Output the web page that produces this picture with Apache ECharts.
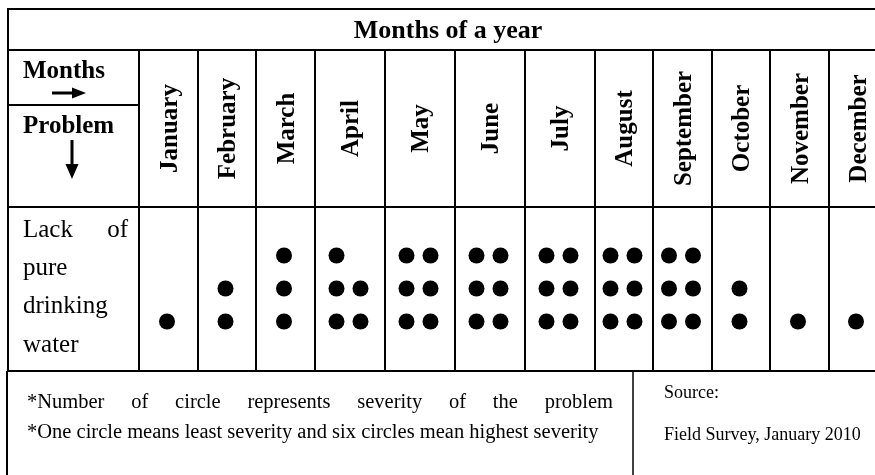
<!DOCTYPE html>
<html><head><meta charset="utf-8">
<script src="https://cdn.jsdelivr.net/npm/echarts@6/dist/echarts.min.js"></script>
<style>html,body{margin:0;padding:0;background:#fff}#c{width:875px;height:475px}</style>
</head><body><div id="c"></div>
<script>
// ---------- data ----------
const tableTitle = 'Months of a year';
const headerTop = 'Months';
const headerLeft = 'Problem';
const months = ['January','February','March','April','May','June','July','August','September','October','November','December'];
const severity = [1, 2, 3, 5, 6, 6, 6, 6, 6, 2, 1, 1];
const problemLines = [['Lack', 'of'], ['pure'], ['drinking'], ['water']];
const noteLine1 = '*Number of circle represents severity of the problem';
const noteLine2 = '*One circle means least severity and six circles mean highest severity';
const sourceLines = ['Source:', 'Field Survey, January 2010'];

// ---------- layout (styles / positions only) ----------
const FONT = '"Liberation Serif","Times New Roman",serif';
const W = 875, H = 475;
const colEdges = [139, 198, 256, 315, 385, 455, 525, 595, 653, 712, 770, 829, 886];
const yTop = 9, yTitle = 50, yHeadSplit = 105, yHead = 207, yData = 371;
const xLeft = 8, xFootLeft = 7, xFootSplit = 633;
const dotR = 8, dotBaseY = 321.5, dotStep = 33, pairHalf = 12;

function measure(text, font) {
  const ctx = document.createElement('canvas').getContext('2d');
  ctx.font = font;
  return ctx.measureText(text).width;
}
function line(x1, y1, x2, y2, w) {
  return { type: 'line', silent: true, shape: { x1, y1, x2, y2 }, style: { stroke: '#000', lineWidth: w || 2 } };
}
function text(str, x, y, opt) {
  opt = opt || {};
  const size = opt.size || 25, weight = opt.weight || 'normal';
  return {
    type: 'text', silent: true, x, y, rotation: opt.rotation || 0,
    style: {
      text: str, fill: '#000', fontFamily: FONT, fontSize: size, fontWeight: weight,
      font: weight + ' ' + size + 'px ' + FONT,
      align: opt.align || 'left', textAlign: opt.align || 'left',
      verticalAlign: 'middle', textVerticalAlign: 'middle'
    }
  };
}
function justified(str, x1, x2, y, size) {
  const words = str.split(/\s+/);
  const font = 'normal ' + size + 'px ' + FONT;
  const widths = words.map(w => measure(w, font));
  const total = widths.reduce((a, b) => a + b, 0);
  const gap = (x2 - x1 - total) / (words.length - 1);
  const out = [];
  let x = x1;
  words.forEach((w, i) => { out.push(text(w, x, y, { size })); x += widths[i] + gap; });
  return out;
}

const graphics = [];
// table frame
graphics.push(line(xLeft, yTop, W, yTop));
graphics.push(line(xLeft, yTitle, W, yTitle));
graphics.push(line(xLeft, yHead, W, yHead));
graphics.push(line(xFootLeft, yData, W, yData));
graphics.push(line(xLeft, yTop - 1, xLeft, yData));
graphics.push(line(xLeft, yHeadSplit, colEdges[0], yHeadSplit));
graphics.push(line(xFootLeft, yData, xFootLeft, H));
graphics.push(line(xFootSplit, yData, xFootSplit, H, 1.5));
// title
graphics.push(text(tableTitle, 448, 31, { size: 26, weight: 'bold', align: 'center' }));
// header corner
graphics.push(text(headerTop, 23, 72, { size: 25, weight: 'bold' }));
graphics.push(text(headerLeft, 23, 127, { size: 25, weight: 'bold' }));
// right arrow
graphics.push({ type: 'polygon', silent: true, shape: { points: [[52, 91.5], [72, 91.5], [72, 87.5], [86, 93], [72, 98.5], [72, 94.5], [52, 94.5]] }, style: { fill: '#000' } });
// down arrow
graphics.push({ type: 'polygon', silent: true, shape: { points: [[70.5, 140], [73.5, 140], [73.5, 164], [78.5, 164], [72, 179], [65.5, 164], [70.5, 164]] }, style: { fill: '#000' } });
// problem text
const probBase = [230, 268, 306, 345];
problemLines.forEach((ln, i) => {
  graphics.push(text(ln[0], 23, probBase[i], { size: 25 }));
  if (ln.length === 2) graphics.push(text(ln[1], 128, probBase[i], { size: 25, align: 'right' }));
});
// notes
justified(noteLine1, 27, 613, 403, 20.5).forEach(g => graphics.push(g));
graphics.push(text(noteLine2, 27, 433, { size: 20.5 }));
graphics.push(text(sourceLines[0], 664, 393, { size: 18 }));
graphics.push(text(sourceLines[1], 664, 435, { size: 18 }));

function dotOffsets(n) {
  const res = [];
  if (n <= 3) { for (let r = 0; r < n; r++) res.push([0, r]); return res; }
  const pairs = Math.floor(n / 2);
  for (let r = 0; r < pairs; r++) { res.push([-pairHalf, r]); res.push([pairHalf, r]); }
  if (n % 2) res.push([-pairHalf, pairs]);
  return res;
}

const chart = echarts.init(document.getElementById('c'), null, { renderer: 'canvas' });
chart.setOption({
  animation: false,
  backgroundColor: '#fff',
  grid: { left: 0, right: 0, top: 0, bottom: 0 },
  xAxis: { type: 'value', min: 0, max: W, show: false },
  yAxis: { type: 'value', min: 0, max: H, inverse: true, show: false },
  graphic: { elements: graphics },
  series: [{
    type: 'custom',
    silent: true,
    data: months.map((m, i) => [i, severity[i]]),
    renderItem: function (params, api) {
      const i = api.value(0), n = api.value(1);
      const x0 = colEdges[i], x1 = colEdges[i + 1];
      const mid = (x0 + x1) / 2;
      const children = [];
      const pTop = api.coord([x0, yTitle]), pBot = api.coord([x0, yData]);
      children.push({ type: 'line', shape: { x1: pTop[0], y1: pTop[1], x2: pBot[0], y2: pBot[1] }, style: { stroke: '#000', lineWidth: 2 } });
      const lp = api.coord([mid + 2, (yTitle + yHead) / 2]);
      children.push({
        type: 'text', x: lp[0], y: lp[1], rotation: Math.PI / 2,
        style: { text: months[i], fill: '#000', font: 'bold 25px ' + FONT, align: 'center', verticalAlign: 'middle', textAlign: 'center', textVerticalAlign: 'middle' }
      });
      const cx = mid - 1.5;
      dotOffsets(n).forEach(([dx, r]) => {
        const p = api.coord([cx + dx, dotBaseY - r * dotStep]);
        children.push({ type: 'circle', shape: { cx: p[0], cy: p[1], r: dotR }, style: { fill: '#000' } });
      });
      return { type: 'group', children };
    }
  }]
});
</script>
</body></html>
